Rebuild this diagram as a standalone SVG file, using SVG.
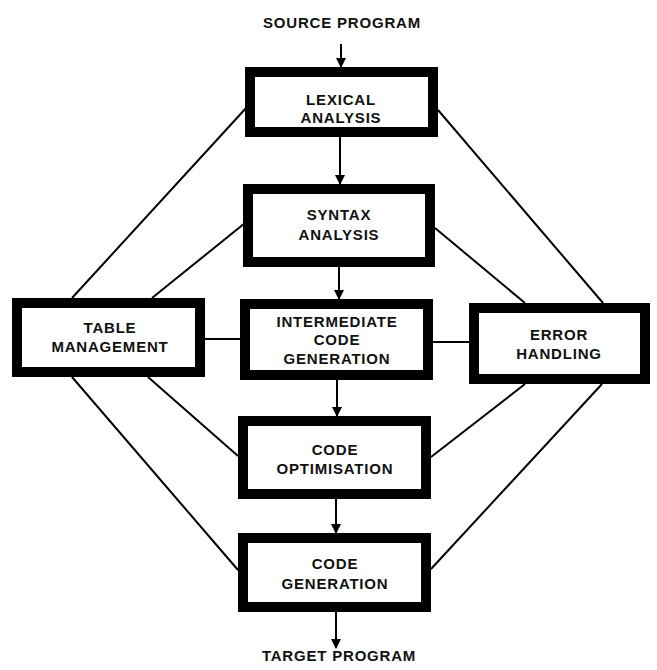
<svg xmlns="http://www.w3.org/2000/svg" width="657" height="670" viewBox="0 0 657 670">
<style>
.box{fill:#fff;stroke:#000;stroke-width:10}
.t{font-family:"Liberation Sans",Arial,sans-serif;font-weight:bold;font-size:15px;letter-spacing:0.8px;text-anchor:middle;fill:#111}
.c{stroke:#000;stroke-width:2;fill:none}
.a{stroke:#000;stroke-width:2;fill:none;marker-end:url(#ah)}
</style>
<defs>
<marker id="ah" markerUnits="userSpaceOnUse" markerWidth="10" markerHeight="12" refX="9" refY="5" orient="auto">
<path d="M0,0 L10,5 L0,10 Z" fill="#000"/>
</marker>
</defs>
<rect width="657" height="670" fill="#fff"/>
<g id="connectors">
<line class="c" x1="247" y1="107" x2="72" y2="298"/>
<line class="c" x1="245" y1="223" x2="152" y2="298"/>
<line class="c" x1="438" y1="110" x2="603" y2="303"/>
<line class="c" x1="435" y1="228" x2="525" y2="303"/>
<line class="c" x1="72" y1="377" x2="238" y2="570"/>
<line class="c" x1="148" y1="377" x2="238" y2="456"/>
<line class="c" x1="525" y1="384" x2="431" y2="457"/>
<line class="c" x1="602" y1="384" x2="431" y2="569"/>
<line class="c" x1="205" y1="339" x2="240" y2="339"/>
<line class="c" x1="433" y1="342" x2="469" y2="342"/>
<line class="a" x1="341" y1="44" x2="341" y2="67"/>
<line class="a" x1="340" y1="137" x2="340" y2="184"/>
<line class="a" x1="339" y1="267" x2="339" y2="299"/>
<line class="a" x1="337" y1="380" x2="337" y2="416"/>
<line class="a" x1="336" y1="499" x2="336" y2="533"/>
<line class="a" x1="336" y1="612" x2="336" y2="648"/>
</g>
<g id="source"><text class="t" x="342" y="28">SOURCE PROGRAM</text></g>
<g id="lexical">
<rect class="box" x="250" y="72" width="183" height="60"/>
<text class="t" x="341" y="105">LEXICAL</text>
<text class="t" x="341" y="123">ANALYSIS</text>
</g>
<g id="syntax">
<rect class="box" x="248" y="189" width="182" height="73"/>
<text class="t" x="339" y="220">SYNTAX</text>
<text class="t" x="339" y="240">ANALYSIS</text>
</g>
<g id="intermediate">
<rect class="box" x="245" y="304" width="183" height="71"/>
<text class="t" x="337" y="327">INTERMEDIATE</text>
<text class="t" x="337" y="345">CODE</text>
<text class="t" x="337" y="364">GENERATION</text>
</g>
<g id="table">
<rect class="box" x="17" y="303" width="183" height="69"/>
<text class="t" x="110" y="333">TABLE</text>
<text class="t" x="110" y="352">MANAGEMENT</text>
</g>
<g id="error">
<rect class="box" x="474" y="308" width="171" height="71"/>
<text class="t" x="559" y="340">ERROR</text>
<text class="t" x="559" y="359">HANDLING</text>
</g>
<g id="optimisation">
<rect class="box" x="243" y="421" width="183" height="73"/>
<text class="t" x="335" y="455">CODE</text>
<text class="t" x="335" y="474">OPTIMISATION</text>
</g>
<g id="generation">
<rect class="box" x="243" y="538" width="183" height="69"/>
<text class="t" x="335" y="569">CODE</text>
<text class="t" x="335" y="589">GENERATION</text>
</g>
<g id="target"><text class="t" x="339" y="661">TARGET PROGRAM</text></g>
</svg>
